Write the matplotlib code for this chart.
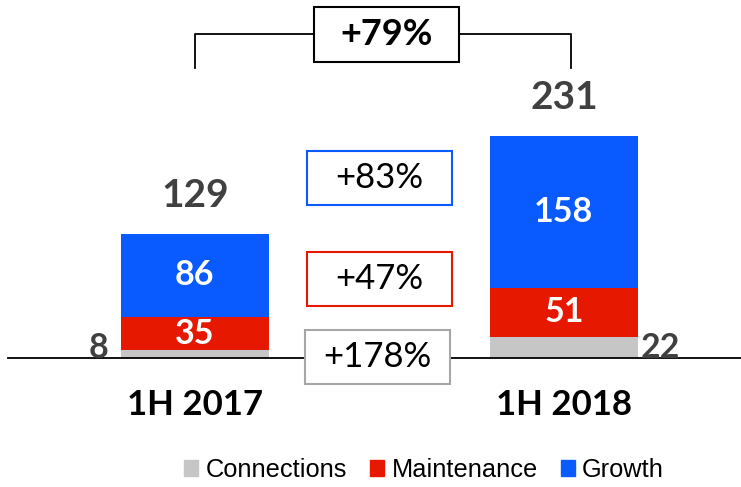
import numpy as np
import matplotlib.pyplot as plt
from matplotlib.patches import Rectangle, Patch

# ---- data ----
periods = ["1H 2017", "1H 2018"]
connections = [8, 22]
maintenance = [35, 51]
growth = [86, 158]
# growth of each segment between the two periods
seg_labels = ["+178%", "+47%", "+83%"]   # connections, maintenance, growth
total_label = "+79%"

c_conn = "#c6c6c6"
c_maint = "#e61900"
c_growth = "#0a5bff"
dark = "#404040"
num_font = "Lato"

x = np.arange(len(periods))
conn = np.array(connections)
maint = np.array(maintenance)
grow = np.array(growth)
totals = conn + maint + grow
w = 0.40

fig = plt.figure(figsize=(7.41, 4.87), dpi=100)
ax = fig.add_axes([0, 0, 1, 1])
ax.set_xlim(-0.528, 1.48)
ax.set_ylim(-134.2, 372.5)
ax.axis("off")

ax.bar(x, conn, w, color=c_conn)
ax.bar(x, maint, w, bottom=conn, color=c_maint)
ax.bar(x, grow, w, bottom=conn + maint, color=c_growth)
ax.axhline(0, xmin=0.011, xmax=1, color="black", lw=1.3)

for i in range(len(x)):
    ax.text(x[i], totals[i] + 40, str(totals[i]), ha="center", va="center",
            fontsize=28, fontweight="bold", color=dark, family=num_font)
    ax.text(x[i], conn[i] + maint[i] + grow[i] / 2, str(grow[i]), ha="center", va="center",
            fontsize=24.5, fontweight="bold", color="white", family=num_font)
    ax.text(x[i], conn[i] + maint[i] / 2, str(maint[i]), ha="center", va="center",
            fontsize=24.5, fontweight="bold", color="white", family=num_font)
    ax.text(x[i], -49, periods[i], ha="center", va="center",
            fontsize=25, fontweight="bold", color="black", family=num_font)

# connections values sit beside the bars
ax.text(x[0] - w / 2 - 0.035, 0.5, str(conn[0]), ha="right", va="baseline",
        fontsize=24.5, fontweight="bold", color=dark, family=num_font)
ax.text(x[1] + w / 2 + 0.008, 0.5, str(conn[1]), ha="left", va="baseline",
        fontsize=24.5, fontweight="bold", color=dark, family=num_font)

# segment change boxes between the bars
box_w, box_h = 0.393, 56
mid = x.mean()
box_y = [1, 82, 187]
edges = ["#a6a6a6", c_maint, c_growth]
for lab, yc, ec, dx in zip(seg_labels, box_y, edges, [-0.005, 0, 0]):
    ax.add_patch(Rectangle((mid + dx - box_w / 2, yc - box_h / 2), box_w, box_h,
                           facecolor="white", edgecolor=ec, lw=1.5, zorder=3))
    ax.text(mid + dx, yc, lab, ha="center", va="center", fontsize=25,
            color="black", family=num_font, zorder=4)

# total bracket on top
ytop, ybot = 337, 302
xl, xr = x[0], x[1] + 0.02
bx = 0.519
ax.plot([xl, xl, xr, xr], [ybot, ytop, ytop, ybot], color="black", lw=1.3)
ax.add_patch(Rectangle((bx - box_w / 2, ytop - 57 / 2), box_w, 57,
                       facecolor="white", edgecolor="black", lw=1.5, zorder=3))
ax.text(bx, ytop, total_label, ha="center", va="center", fontsize=26,
        fontweight="bold", color="black", family=num_font, zorder=4)

handles = [Patch(color=c_conn, label="Connections"),
           Patch(color=c_maint, label="Maintenance"),
           Patch(color=c_growth, label="Growth")]
fig.legend(handles=handles, loc="center", bbox_to_anchor=(424 / 741, 1 - 470 / 487),
           ncol=3, frameon=False, prop={"family": "Liberation Sans", "size": 18.3},
           handlelength=0.55, handleheight=0.55, handletextpad=0.3, columnspacing=0.9)

fig.savefig("out.png", dpi=100)
